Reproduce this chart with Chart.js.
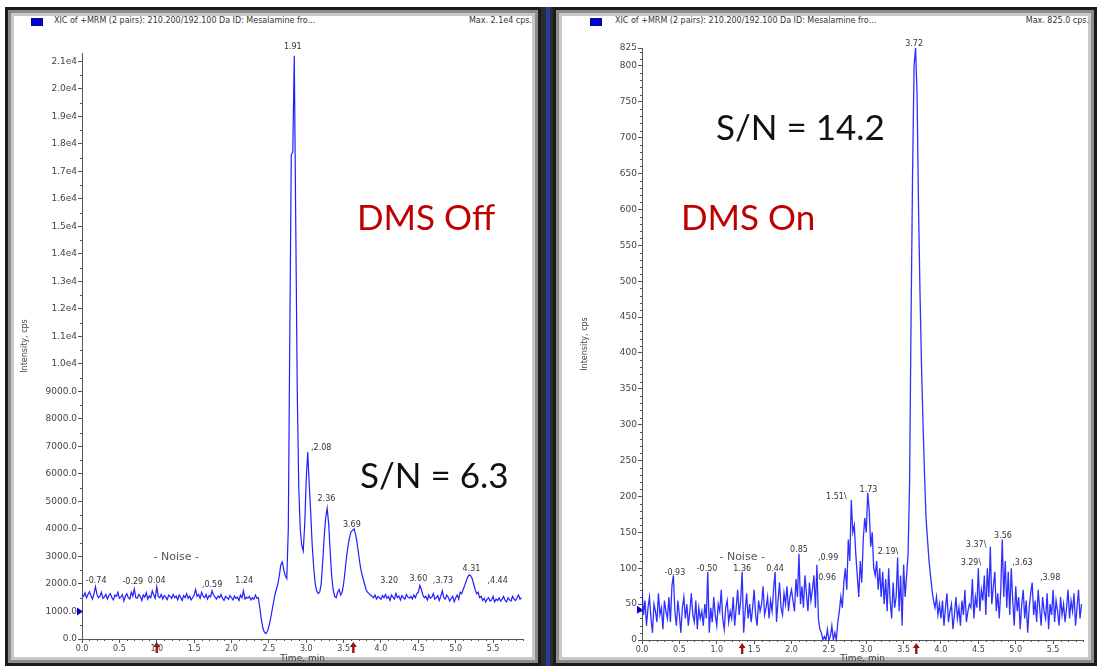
<!DOCTYPE html>
<html>
<head>
<meta charset="utf-8">
<script src="https://cdn.jsdelivr.net/npm/chart.js@4.4.1/dist/chart.umd.min.js"></script>
<style>
html, body { margin: 0; padding: 0; background: #fff; width: 1097px; height: 666px; overflow: hidden; }
body { position: relative; font-family: 'DejaVu Sans', sans-serif; }
.panel { position: absolute; top: 7px; height: 659px; box-sizing: border-box; background: #fff;
         border: 3px solid #1b1b1b; box-shadow: inset 0 0 0 3px #8c8c8c, inset 0 0 0 6px #c8c8c8; }
.sep { position: absolute; top: 7px; left: 541px; width: 12px; height: 659px; background: #2b2b2b; }
.sep i { position: absolute; left: 5px; top: 0; width: 4px; height: 100%; background: #2a3a9a; }
.hdr { position: absolute; top: 16px; font-size: 8px; color: #333; white-space: nowrap; line-height: 10px; }
.sq { position: absolute; top: 18px; width: 10px; height: 6px; background: #0000e0; border: 1px solid #001070; }
.big { position: absolute; font-family: Lato, 'Open Sans', sans-serif; font-size: 35px; line-height: 35px; white-space: nowrap; }
.red { color: #c00000; }
.blk { color: #111; }
canvas { position: absolute; }
</style>
</head>
<body>
<div class="panel" style="left:5px;width:536px;"></div>
<div class="sep"><i></i></div>
<div class="panel" style="left:553px;width:544px;"></div>

<div class="sq" style="left:31px;"></div>
<div class="hdr" style="left:54px;">XIC of +MRM (2 pairs): 210.200/192.100 Da ID: Mesalamine fro...</div>
<div class="hdr" style="left:400px;width:132px;text-align:right;">Max. 2.1e4 cps.</div>
<div class="sq" style="left:590px;"></div>
<div class="hdr" style="left:615px;">XIC of +MRM (2 pairs): 210.200/192.100 Da ID: Mesalamine fro...</div>
<div class="hdr" style="left:950px;width:139px;text-align:right;">Max. 825.0 cps.</div>

<canvas id="leftChart" width="524" height="634" style="left:16px;top:30px;"></canvas>
<canvas id="rightChart" width="522" height="634" style="left:568px;top:30px;"></canvas>

<div class="big red" style="left:357px;top:199px;">DMS Off</div>
<div class="big blk" style="left:360px;top:457px;">S/N = 6.3</div>
<div class="big red" style="left:681px;top:199px;">DMS On</div>
<div class="big blk" style="left:716px;top:109px;">S/N = 14.2</div>

<script>
// sampling interval of both traces (min)
const SAMPLE_STEP = 0.02;
const X_MAX = 5.9;

const xTicks = [0, 0.5, 1, 1.5, 2, 2.5, 3, 3.5, 4, 4.5, 5, 5.5];
const leftYTicks = [0, 1000, 2000, 3000, 4000, 5000, 6000, 7000, 8000, 9000, 10000,
    11000, 12000, 13000, 14000, 15000, 16000, 17000, 18000, 19000, 20000, 21000];
const rightYTicks = [0, 50, 100, 150, 200, 250, 300, 350, 400, 450, 500, 550, 600, 650, 700, 750, 800, 825];

// DMS off trace, cps
const leftIntensity = [
    1600,1550,1680,1500,1620,1720,1580,1450,1650,1900,1620,1500,1560,1700,1480,1530,1620,1450,1580,1650,
    1500,1420,1600,1550,1700,1480,1520,1610,1380,1560,1640,1500,1450,1700,1560,1820,1500,1480,1620,1550,
    1400,1600,1520,1680,1450,1570,1500,1750,1600,1480,1900,1550,1500,1620,1450,1580,1520,1430,1600,1550,
    1480,1620,1500,1560,1430,1600,1520,1400,1580,1500,1650,1480,1560,1420,1500,1600,1800,1550,1620,1480,
    1700,1560,1500,1620,1450,1580,1530,1750,1600,1520,1450,1560,1500,1620,1480,1400,1550,1500,1450,1580,
    1500,1420,1560,1480,1520,1400,1600,1500,1750,1450,1520,1480,1550,1420,1500,1450,1600,1480,1500,1100,
    700,400,250,200,280,450,700,1000,1300,1600,1800,2000,2300,2700,2800,2500,2300,2200,4000,11000,
    17600,17700,21200,15000,9000,5500,4000,3400,3200,4200,5800,6800,5600,4600,3400,2600,2000,1750,1650,1700,
    2000,2800,3700,4400,4750,4200,3200,2300,1800,1550,1500,1700,1800,1600,1700,2000,2500,3000,3400,3700,
    3900,3950,4000,3800,3500,3100,2700,2400,2200,2000,1800,1700,1650,1600,1550,1500,1600,1450,1550,1500,
    1450,1580,1500,1620,1480,1550,1400,1600,1520,1450,1650,1500,1560,1420,1580,1500,1450,1620,1520,1480,
    1550,1450,1600,1500,1650,1700,1950,1800,1600,1500,1550,1420,1600,1480,1520,1650,1450,1500,1580,1400,
    1550,1750,1500,1450,1600,1520,1380,1480,1550,1350,1500,1600,1450,1700,1650,1800,1950,2100,2250,2330,
    2300,2200,2000,1800,1650,1700,1500,1550,1400,1480,1350,1450,1500,1380,1420,1550,1350,1450,1400,1500,
    1380,1450,1550,1400,1350,1500,1420,1380,1550,1450,1400,1500,1600,1450,1500
];

// DMS on trace, cps
const rightIntensity = [
    70,35,55,20,45,60,30,10,50,40,25,65,35,45,15,55,40,30,60,25,
    75,90,40,20,55,35,10,45,60,30,50,20,40,65,35,25,55,15,45,30,
    40,20,50,30,95,10,45,25,60,35,20,50,40,70,30,15,45,55,25,40,
    30,60,20,45,70,35,55,95,10,40,65,30,50,25,45,70,35,20,55,40,
    50,75,35,45,60,30,55,40,70,95,25,55,80,45,35,65,50,75,40,60,
    70,55,40,85,60,120,50,75,45,90,65,40,80,55,70,90,45,105,30,15,
    10,0,5,0,15,0,5,20,0,10,0,25,40,60,45,80,100,70,140,110,
    195,150,160,120,90,60,110,80,140,170,150,205,180,130,150,100,90,110,70,100,
    60,95,50,85,40,100,55,30,80,45,60,115,40,90,20,105,60,90,120,220,
    450,650,800,825,760,600,480,380,300,230,170,140,110,90,70,55,45,60,35,50,
    30,55,20,45,65,25,40,50,15,35,60,30,45,20,55,35,70,25,40,50,
    45,85,30,60,45,100,40,70,55,90,35,100,60,130,50,75,95,40,65,30,
    70,140,60,110,45,95,35,100,55,20,75,40,60,15,50,70,30,55,10,45,
    65,80,35,55,25,70,45,20,60,40,30,65,15,50,35,70,25,55,40,20,
    60,35,50,25,45,70,30,55,40,65,20,45,70,30,50
];

// peak annotations (time, intensity where the label sits, text)
const leftLabelTime = [0.19, 0.68, 1.00, 1.74, 2.17, 2.82, 3.20, 3.27, 3.61, 4.11, 4.50, 4.83, 5.21, 5.56];
const leftLabelValue = [2110, 2070, 2110, 1960, 2110, 21530, 6945, 5090, 4145, 2110, 2180, 2110, 2545, 2110];
const leftLabelText = ['-0.74', '-0.29', '0.04', ',0.59', '1.24', '1.91', ',2.08', '2.36', '3.69', '3.20', '3.60', ',3.73', '4.31', ',4.44'];

const rightLabelTime = [0.44, 0.87, 1.34, 1.78, 2.10, 2.49, 2.46, 2.60, 3.03, 3.29, 3.64, 4.47, 4.83, 4.40, 5.09, 5.46];
const rightLabelValue = [93, 99, 99, 99, 125, 114, 86, 200, 209, 123, 831, 132, 145, 107, 107, 86];
const rightLabelText = ['-0.93', '-0.50', '1.36', '0.44', '0.85', ',0.99', ',0.96', '1.51\\', '1.73', '2.19\\', '3.72', '3.37\\', '3.56', '3.29\\', ',3.63', ',3.98'];

const leftNoise = [1.26, 2980];
const rightNoise = [1.34, 116];
const leftArrows = [1.00, 3.63];
const rightArrows = [1.34, 3.67];
const leftMarker = 1000;
const rightMarker = 42;

const TEXT = '#444';
const AXIS = '#555';

// minor ticks, peak labels, arrows and the y marker
const decorPlugin = {
    id: 'decor',
    afterDraw(chart, args, o) {
        const ctx = chart.ctx;
        const x = chart.scales.x, y = chart.scales.y;
        const area = chart.chartArea;
        ctx.save();
        ctx.strokeStyle = AXIS;
        ctx.lineWidth = 1;
        ctx.beginPath();
        const nx = Math.round(X_MAX / 0.1);
        for (let i = 1; i <= nx; i++) {
            if (i % 5 === 0) continue;
            const px = Math.round(x.getPixelForValue(i * 0.1)) + 0.5;
            ctx.moveTo(px, area.bottom);
            ctx.lineTo(px, area.bottom + 2);
        }
        const ny = Math.floor(y.max / o.yMinor);
        for (let i = 1; i <= ny; i++) {
            if ((i * o.yMinor) % o.yMajor === 0) continue;
            const py = Math.round(y.getPixelForValue(i * o.yMinor)) + 0.5;
            ctx.moveTo(area.left - 2, py);
            ctx.lineTo(area.left, py);
        }
        ctx.stroke();

        ctx.fillStyle = '#333';
        ctx.font = '8px "DejaVu Sans"';
        ctx.textAlign = 'center';
        ctx.textBaseline = 'middle';
        o.labelTime.forEach((t, i) => {
            ctx.fillText(o.labelText[i], x.getPixelForValue(t), y.getPixelForValue(o.labelValue[i]));
        });
        ctx.font = '11px "DejaVu Sans"';
        ctx.fillStyle = '#555';
        ctx.fillText('- Noise -', x.getPixelForValue(o.noise[0]), y.getPixelForValue(o.noise[1]));

        ctx.fillStyle = '#9a1414';
        o.arrows.forEach(t => {
            const px = x.getPixelForValue(t);
            const b = area.bottom;
            ctx.beginPath();
            ctx.moveTo(px, b + 3);
            ctx.lineTo(px + 3.5, b + 8);
            ctx.lineTo(px - 3.5, b + 8);
            ctx.closePath();
            ctx.fill();
            ctx.fillRect(px - 1.2, b + 7, 2.4, 7);
        });

        const my = y.getPixelForValue(o.marker);
        ctx.fillStyle = '#0000c8';
        ctx.beginPath();
        ctx.moveTo(area.left - 5, my - 4);
        ctx.lineTo(area.left + 1, my);
        ctx.lineTo(area.left - 5, my + 4);
        ctx.closePath();
        ctx.fill();
        ctx.restore();
    }
};

function makePanel(id, values, yTicks, yMax, yFmt, opts) {
    const pts = values.map((v, i) => ({ x: +(i * SAMPLE_STEP).toFixed(2), y: v }));
    return new Chart(document.getElementById(id), {
        type: 'line',
        data: {
            datasets: [{
                data: pts,
                borderColor: opts.color,
                borderWidth: opts.lw,
                pointRadius: 0,
                tension: 0,
                fill: false
            }]
        },
        options: {
            responsive: false,
            animation: false,
            events: [],
            layout: { padding: { top: opts.top, right: opts.right, left: 0, bottom: 0 } },
            plugins: {
                legend: { display: false },
                tooltip: { enabled: false },
                decor: opts.decor
            },
            scales: {
                x: {
                    type: 'linear',
                    min: 0,
                    max: X_MAX,
                    afterBuildTicks: s => { s.ticks = xTicks.map(v => ({ value: v })); },
                    afterFit: s => { s.height = opts.xH; },
                    ticks: {
                        callback: v => v.toFixed(1),
                        font: { family: 'DejaVu Sans', size: 8 },
                        color: TEXT,
                        padding: 1,
                        maxRotation: 0,
                        autoSkip: false
                    },
                    grid: { drawOnChartArea: false, tickLength: 4, color: AXIS },
                    border: { color: AXIS },
                    title: {
                        display: true,
                        text: 'Time, min',
                        font: { family: 'DejaVu Sans', size: 9 },
                        color: TEXT,
                        padding: { top: 0, bottom: 0 }
                    }
                },
                y: {
                    min: 0,
                    max: yMax,
                    afterBuildTicks: s => { s.ticks = yTicks.map(v => ({ value: v })); },
                    afterFit: s => { s.width = opts.yW; },
                    ticks: {
                        callback: yFmt,
                        font: { family: 'DejaVu Sans', size: 9 },
                        color: TEXT,
                        padding: 1,
                        autoSkip: false
                    },
                    grid: { drawOnChartArea: false, tickLength: 4, color: AXIS },
                    border: { color: AXIS },
                    title: {
                        display: true,
                        text: 'Intensity, cps',
                        font: { family: 'DejaVu Sans', size: 8 },
                        color: TEXT,
                        padding: { top: opts.yTitlePad, bottom: 0 }
                    }
                }
            }
        },
        plugins: [decorPlugin]
    });
}

makePanel('leftChart', leftIntensity, leftYTicks, 21300,
    v => v >= 10000 ? (v / 10000).toFixed(1) + 'e4' : v.toFixed(1),
    {
        color: 'rgb(30,30,255)', lw: 1.2, top: 23, right: 17, xH: 25, yW: 66, yTitlePad: 4,
        decor: {
            yMinor: 500, yMajor: 1000,
            labelTime: leftLabelTime, labelValue: leftLabelValue, labelText: leftLabelText,
            noise: leftNoise, arrows: leftArrows, marker: leftMarker
        }
    });

makePanel('rightChart', rightIntensity, rightYTicks, 825,
    v => String(v),
    {
        color: 'rgba(10,10,255,0.85)', lw: 1.3, top: 18, right: 7, xH: 24, yW: 74, yTitlePad: 12,
        decor: {
            yMinor: 10, yMajor: 50,
            labelTime: rightLabelTime, labelValue: rightLabelValue, labelText: rightLabelText,
            noise: rightNoise, arrows: rightArrows, marker: rightMarker
        }
    });
</script>
</body>
</html>
